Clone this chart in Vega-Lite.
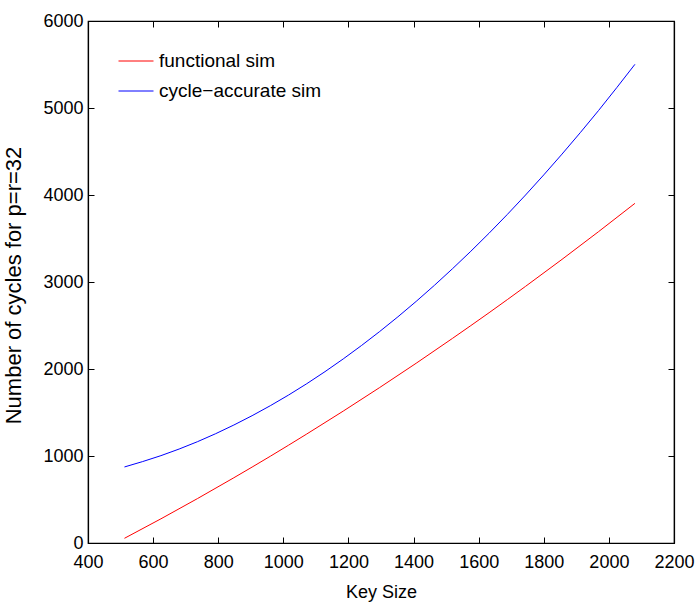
{
  "$schema": "https://vega.github.io/schema/vega-lite/v6.json",
  "width": 586,
  "height": 522,
  "autosize": "none",
  "padding": {"left": 88, "top": 21, "right": 22, "bottom": 59},
  "background": "white",
  "config": {
    "font": "Liberation Sans",
    "view": {"stroke": "black", "strokeWidth": 1.2},
    "axis": {
      "domainColor": "black",
      "domainWidth": 1.2,
      "tickColor": "black",
      "tickSize": -6,
      "tickWidth": 1,
      "grid": false,
      "format": "d",
      "labelOverlap": false,
      "labelFlush": false,
      "labelFont": "Liberation Sans",
      "labelFontSize": 18,
      "labelColor": "black",
      "titleFont": "Liberation Sans",
      "titleFontSize": 18,
      "titleFontWeight": "normal",
      "titleColor": "black"
    }
  },
  "data": {
    "values": [
      {"key": 512, "cycles": 54, "series": "functional sim"},
      {"key": 624, "cycles": 278, "series": "functional sim"},
      {"key": 736, "cycles": 510, "series": "functional sim"},
      {"key": 848, "cycles": 750, "series": "functional sim"},
      {"key": 960, "cycles": 997, "series": "functional sim"},
      {"key": 1072, "cycles": 1253, "series": "functional sim"},
      {"key": 1184, "cycles": 1516, "series": "functional sim"},
      {"key": 1296, "cycles": 1787, "series": "functional sim"},
      {"key": 1408, "cycles": 2066, "series": "functional sim"},
      {"key": 1520, "cycles": 2353, "series": "functional sim"},
      {"key": 1632, "cycles": 2647, "series": "functional sim"},
      {"key": 1744, "cycles": 2950, "series": "functional sim"},
      {"key": 1856, "cycles": 3260, "series": "functional sim"},
      {"key": 1968, "cycles": 3578, "series": "functional sim"},
      {"key": 2080, "cycles": 3904, "series": "functional sim"},
      {"key": 512, "cycles": 874, "series": "cycle−accurate sim"},
      {"key": 624, "cycles": 1004, "series": "cycle−accurate sim"},
      {"key": 736, "cycles": 1164, "series": "cycle−accurate sim"},
      {"key": 848, "cycles": 1356, "series": "cycle−accurate sim"},
      {"key": 960, "cycles": 1578, "series": "cycle−accurate sim"},
      {"key": 1072, "cycles": 1831, "series": "cycle−accurate sim"},
      {"key": 1184, "cycles": 2116, "series": "cycle−accurate sim"},
      {"key": 1296, "cycles": 2431, "series": "cycle−accurate sim"},
      {"key": 1408, "cycles": 2777, "series": "cycle−accurate sim"},
      {"key": 1520, "cycles": 3154, "series": "cycle−accurate sim"},
      {"key": 1632, "cycles": 3561, "series": "cycle−accurate sim"},
      {"key": 1744, "cycles": 4000, "series": "cycle−accurate sim"},
      {"key": 1856, "cycles": 4470, "series": "cycle−accurate sim"},
      {"key": 1968, "cycles": 4970, "series": "cycle−accurate sim"},
      {"key": 2080, "cycles": 5502, "series": "cycle−accurate sim"}
    ]
  },
  "layer": [
    {
      "mark": {"type": "line", "strokeWidth": 1, "interpolate": "monotone"},
      "encoding": {
        "x": {
          "field": "key", "type": "quantitative",
          "scale": {"domain": [400, 2200], "nice": false, "zero": false},
          "axis": {"values": [400, 600, 800, 1000, 1200, 1400, 1600, 1800, 2000, 2200], "title": "Key Size", "labelPadding": 16, "titleBaseline": "alphabetic", "titleY": 54}
        },
        "y": {
          "field": "cycles", "type": "quantitative",
          "scale": {"domain": [0, 6000], "nice": false},
          "axis": {"values": [0, 1000, 2000, 3000, 4000, 5000, 6000], "title": "Number of cycles for p=r=32", "labelPadding": 11, "titleFontSize": 22, "titleX": -63, "titleY": 264}
        },
        "color": {
          "field": "series", "type": "nominal",
          "scale": {"domain": ["functional sim", "cycle−accurate sim"], "range": ["#ff0000", "#0000ff"]},
          "legend": {
            "title": null,
            "orient": "none",
            "legendX": 30,
            "legendY": 22,
            "symbolType": "stroke",
            "symbolSize": 1225,
            "symbolStrokeWidth": 1,
            "labelFont": "Liberation Sans",
            "labelFontSize": 19,
            "labelColor": "black",
            "labelLimit": 400,
            "rowPadding": 2,
            "labelOffset": 5
          }
        }
      }
    },
    {
      "mark": {"type": "line", "opacity": 0},
      "encoding": {
        "x": {
          "field": "key", "type": "quantitative",
          "axis": {"values": [400, 600, 800, 1000, 1200, 1400, 1600, 1800, 2000, 2200], "labels": false, "title": null}
        },
        "y": {
          "field": "cycles", "type": "quantitative",
          "axis": {"values": [0, 1000, 2000, 3000, 4000, 5000, 6000], "labels": false, "title": null}
        },
        "detail": {"field": "series"}
      }
    }
  ],
  "resolve": {"axis": {"x": "independent", "y": "independent"}}
}
